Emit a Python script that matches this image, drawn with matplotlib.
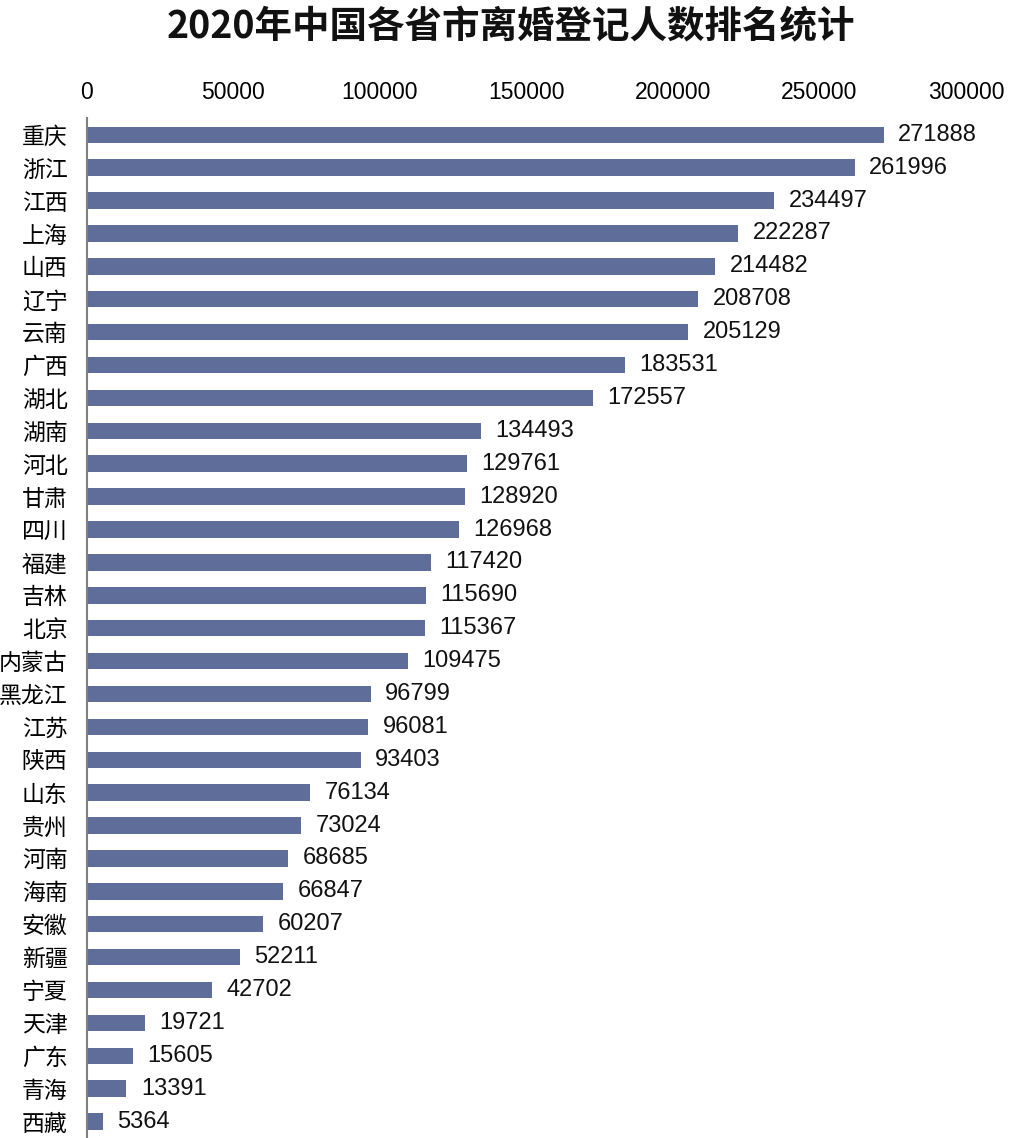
import matplotlib
matplotlib.use("Agg")
import matplotlib.pyplot as plt
import numpy as np

plt.rcParams['font.family'] = ['Liberation Sans', 'Noto Sans CJK SC', 'DejaVu Sans']

# provinces, top to bottom as in the chart
provinces = ['重庆', '浙江', '江西', '上海', '山西', '辽宁', '云南', '广西', '湖北', '湖南',
             '河北', '甘肃', '四川', '福建', '吉林', '北京', '内蒙古', '黑龙江', '江苏', '陕西',
             '山东', '贵州', '河南', '海南', '安徽', '新疆', '宁夏', '天津', '广东', '青海', '西藏']
divorces = [271888, 261996, 234497, 222287, 214482, 208708, 205129, 183531, 172557, 134493,
            129761, 128920, 126968, 117420, 115690, 115367, 109475, 96799, 96081, 93403,
            76134, 73024, 68685, 66847, 60207, 52211, 42702, 19721, 15605, 13391, 5364]
xticks = [0, 50000, 100000, 150000, 200000, 250000, 300000]

bar_color = '#5f6d9a'

fig = plt.figure(figsize=(10.22, 11.38), dpi=100)
ax = fig.add_axes([0.0851, 0.0, 0.86, 0.896])

y = np.arange(len(provinces))
ax.barh(y, divorces, height=0.5, color=bar_color)
ax.set_ylim(len(provinces) - 0.5, -0.5)
ax.set_xlim(0, 300000)

ax.set_yticks(y)
ax.set_yticklabels(provinces, fontsize=16.5, family=['Noto Sans CJK SC'])
ax.tick_params(axis='y', length=0, pad=14)

ax.xaxis.tick_top()
ax.set_xticks(xticks)
ax.set_xticklabels([str(t) for t in xticks], fontsize=16.5)
ax.tick_params(axis='x', length=0, pad=10)

for s in ['top', 'right', 'bottom']:
    ax.spines[s].set_visible(False)
ax.spines['left'].set_color('#808080')
ax.spines['left'].set_linewidth(1.5)

for yi, v in zip(y, divorces):
    ax.annotate(str(v), (v, yi), xytext=(10.5, 0), textcoords='offset points',
                va='center', ha='left', fontsize=17, color='#111111')

fig.text(0.5, 0.976, '2020年中国各省市离婚登记人数排名统计', ha='center', va='center',
         fontsize=27, fontweight='bold', family=['Noto Sans CJK SC'], color='#111111')

fig.savefig('out.png', dpi=100)
